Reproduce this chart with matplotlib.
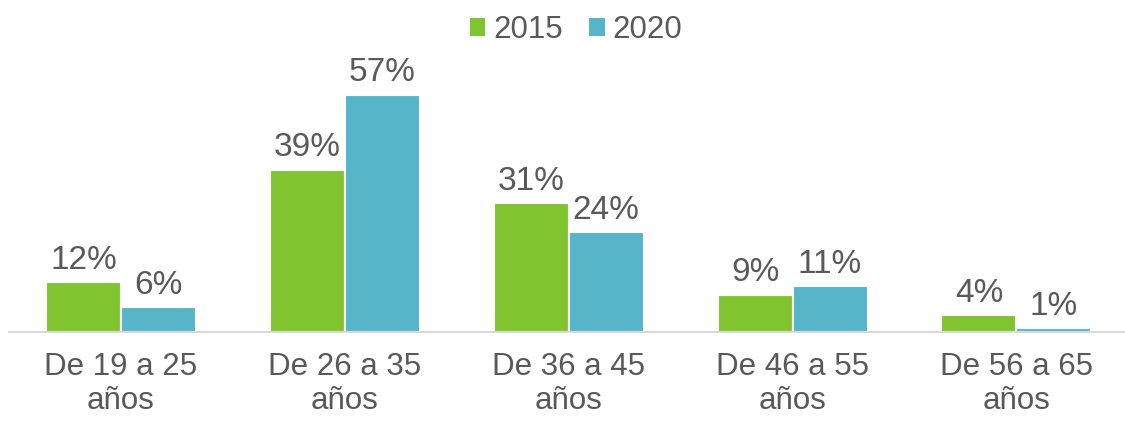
import numpy as np
import matplotlib
matplotlib.use("Agg")
from matplotlib import pyplot as plt
from matplotlib.patches import Patch

categories = ["De 19 a 25\naños", "De 26 a 35\naños", "De 36 a 45\naños",
              "De 46 a 55\naños", "De 56 a 65\naños"]
years = ["2015", "2020"]
values_2015 = [12, 39, 31, 9, 4]
values_2020 = [6, 57, 24, 11, 1]

colors = ["#80C42F", "#57B5C9"]
text_color = "#595959"
fs = 22.5

plt.rcParams['font.family'] = ['Liberation Sans', 'DejaVu Sans']

fig = plt.figure(figsize=(11.25, 4.21), dpi=100)
ax = fig.add_axes([0.008, 0.211, 0.995, 0.594])

x = np.arange(len(categories))
w = 0.335
for i, (vals, col) in enumerate(zip([values_2015, values_2020], colors)):
    offs = (i - 0.5) * w
    bars = ax.bar(x + offs, vals, width=w, color=col, edgecolor="white",
                  linewidth=1.5)
    for b, v in zip(bars, vals):
        ax.annotate("%d%%" % v, (b.get_x() + b.get_width() / 2, v),
                    xytext=(0, 9.5), textcoords="offset points",
                    ha="center", va="baseline", fontsize=24, color=text_color)

ax.set_xlim(-0.5, len(categories) - 0.5)
ax.set_ylim(0, 60)
ax.set_yticks([])
for s in ["top", "right", "left"]:
    ax.spines[s].set_visible(False)
ax.spines["bottom"].set_color("#D9D9D9")
ax.spines["bottom"].set_linewidth(1.5)
ax.set_xticks(x)
ax.set_xticklabels(categories, fontsize=fs, color=text_color)
ax.tick_params(axis="x", length=0, pad=14)

handles = [Patch(facecolor=c, edgecolor="none") for c in colors]
leg = fig.legend(handles, years, loc="upper center", bbox_to_anchor=(0.512, 1.03),
                 ncol=2, frameon=False, fontsize=fs, handlelength=0.5,
                 handleheight=0.5, handletextpad=0.25, columnspacing=0.85)
for t in leg.get_texts():
    t.set_color(text_color)

fig.savefig("out.png", dpi=100)
